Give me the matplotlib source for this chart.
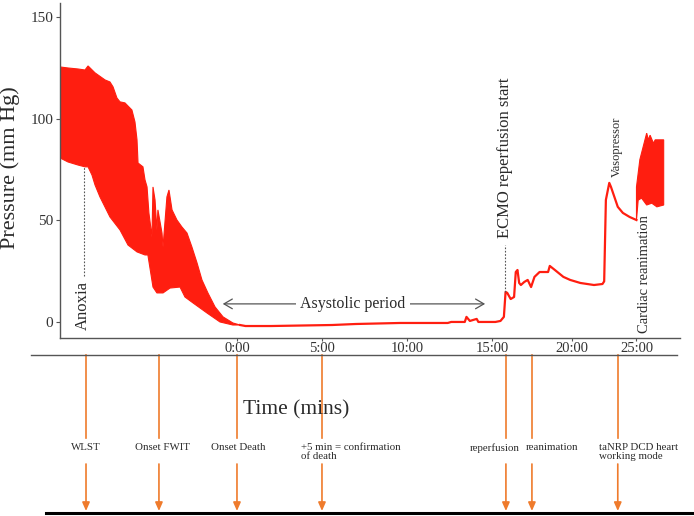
import numpy as np
import matplotlib
matplotlib.use("Agg")
import matplotlib.pyplot as plt
import matplotlib.transforms as mtransforms
from matplotlib.lines import Line2D

plt.rcParams["font.family"] = ["Liberation Serif", "DejaVu Serif"]

# ---- data (time in minutes from onset of death, pressure in mm Hg) ----
# pulsatile band before death: upper / lower envelope
band1_up_t = [-10.41, -9.94, -9.35, -8.94, -8.76, -8.35, -7.76, -7.47, -7.29, -7.06,
              -6.88, -6.59, -6.18, -6.00, -5.88, -5.82, -5.53, -5.41, -5.29, -5.18,
              -5.00, -4.94, -4.82, -4.71, -4.65, -4.41, -4.35, -4.12, -4.00, -3.82,
              -3.53, -3.24, -2.94, -2.65, -2.35, -2.06, -1.71, -1.29, -0.82, -0.24, 0.18]
band1_up_v = [125.6, 125.1, 124.6, 124.1, 126.1, 122.7, 119.2, 118.2, 115.8, 110.3,
              108.4, 107.9, 104.4, 98.5, 89.7, 78.3, 76.4, 70.0, 66.5, 53.7,
              41.9, 66.5, 60.1, 45.3, 55.2, 43.8, 36.9, 61.6, 65.0, 55.2,
              50.2, 46.8, 43.8, 36.9, 29.1, 20.7, 14.3, 7.4, 2.5, -0.5, -1.5]
band1_lo_t = [-10.41, -9.94, -9.35, -8.94, -8.76, -8.53, -8.35, -8.06, -7.47, -6.88,
              -6.41, -5.88, -5.41, -5.24, -4.94, -4.71, -4.35, -3.94, -3.35, -3.06,
              -2.59, -1.76, -1.00, -0.24, 0.18]
band1_lo_v = [80.8, 78.8, 77.3, 76.4, 76.4, 72.4, 67.5, 61.6, 51.7, 45.3,
              37.9, 34.5, 33.0, 33.0, 17.2, 14.3, 14.3, 16.7, 17.2, 12.3,
              9.4, 4.4, 0.0, -1.5, -1.5]

# asystole, ECMO reperfusion and vasopressor response
line_t = [0.18, 0.5, 2.0, 5.6, 7.0, 9.6, 10.8, 12.4, 12.6, 13.4, 13.5, 13.7, 14.1,
          14.2, 15.2, 15.5, 15.7, 15.8, 15.9, 16.1, 16.3, 16.4, 16.5, 16.6, 16.7,
          16.9, 17.1, 17.3, 17.5, 17.8, 18.3, 18.4, 18.7, 19.2, 19.6, 20.2, 21.0,
          21.5, 21.6, 21.7, 21.9, 22.0, 22.4, 22.7, 23.1, 23.5]
line_v = [-1.5, -2.0, -2.0, -1.5, -1.0, -0.5, -0.5, -0.5, 0.0, 0.0, 2.5, 0.5, 1.5,
          0.0, 0.0, 0.5, 2.5, 14.8, 14.3, 11.3, 12.3, 24.6, 25.6, 19.2, 18.2,
          19.7, 20.7, 17.2, 22.2, 24.6, 24.6, 27.6, 25.6, 22.2, 20.7, 19.2, 18.2,
          18.7, 20.0, 60.1, 68.5, 66.5, 56.7, 53.7, 51.7, 50.2]

# pulsatile band after cardiac reanimation
band2_up_t = [23.5, 23.7, 24.1, 24.2, 24.3, 24.5, 24.6, 24.9, 25.1]
band2_up_v = [66.5, 80.0, 93.0, 89.7, 92.0, 88.0, 89.7, 89.7, 89.7]
band2_lo_t = [23.5, 23.6, 23.8, 24.1, 24.4, 24.7, 25.1]
band2_lo_v = [50.2, 60.0, 61.0, 57.6, 58.5, 56.7, 57.6]

tick_pos = [0, 5, 10, 15, 19.7, 23.5]
tick_labels = ["0:00", "5:00", "10:00", "15:00", "20:00", "25:00"]
y_ticks = [0, 50, 100, 150]

event_t = [-8.88, -4.59, 0.0, 5.0, 15.82, 17.35, 22.4]
event_labels = ["WLST", "Onset FWIT", "Onset Death", "+5 min = confirmation\nof death",
                "reperfusion", "reanimation", "taNRP DCD heart\nworking mode"]
# label placement: horizontal alignment and pixel offset from the arrow
event_ha = ["center", "center", "center", "left", "center", "left", "left"]
event_dx = [0, 4, 1, -21, -11, -6, -19]

RED = "#ff1e10"
ORANGE = "#ef7b2c"
GREY = "#555555"
TXT = "#2a2a2a"

W, H = 694, 516
fig = plt.figure(figsize=(W / 100, H / 100), dpi=100)
ax = fig.add_axes([60 / W, 1 - 338 / H, 620 / W, 335 / H])

# traces
ax.fill(np.concatenate([band1_up_t, band1_lo_t[::-1]]),
        np.concatenate([band1_up_v, band1_lo_v[::-1]]),
        color=RED, lw=0.8, ec=RED)
ax.plot(line_t, line_v, color=RED, lw=1.6, solid_joinstyle="round")
ax.fill(np.concatenate([band2_up_t, band2_lo_t[::-1]]),
        np.concatenate([band2_up_v, band2_lo_v[::-1]]),
        color=RED, lw=0.8, ec=RED)

ax.set_xlim(-10.41, 26.06)
ax.set_ylim(-7.9, 157.1)
for s in ["top", "right"]:
    ax.spines[s].set_visible(False)
for s in ["left", "bottom"]:
    ax.spines[s].set_color(GREY)
    ax.spines[s].set_linewidth(1.0)
ax.set_yticks(y_ticks)
ax.set_xticks(tick_pos)
ax.set_xticklabels(tick_labels)
ax.tick_params(axis="y", length=3, width=0.8, color=GREY, labelsize=11,
               labelcolor="#333333", pad=2)
ax.tick_params(axis="x", length=2, width=0.8, color=GREY, labelsize=10.5,
               labelcolor="#333333", pad=1)

# annotations inside the plot
ax.plot([-9.0, -9.0], [22.7, 76.4], color=GREY, lw=0.8, ls=(0, (1.5, 1.5)))
ax.text(-9.06, -3.9, "Anoxia", rotation=90, ha="center", va="bottom",
        fontsize=12, color=TXT)

ax.plot([15.76, 15.76], [14.8, 37.9], color=GREY, lw=0.8, ls=(0, (1.5, 1.5)))
ax.text(15.76, 41.4, "ECMO reperfusion start", rotation=90, ha="center",
        va="bottom", fontsize=12, color=TXT)
ax.text(22.35, 71.4, "Vasopressor", rotation=90, ha="center", va="bottom",
        fontsize=9, color=TXT)
ax.text(24.0, -5.4, "Cardiac reanimation", rotation=90, ha="center",
        va="bottom", fontsize=10.5, color=TXT)

ax.annotate("", xy=(-1.0, 8.9), xytext=(14.76, 8.9),
            arrowprops=dict(arrowstyle="<->,head_length=0.6,head_width=0.35",
                            color=GREY, lw=0.9))
ax.text(6.82, 8.9, "Asystolic period", ha="center", va="center", fontsize=11.5,
        color=TXT, bbox=dict(fc="white", ec="none", pad=3))

# axis titles
fig.text(10 / W, 1 - 168 / H, "Pressure (mm Hg)", rotation=90, ha="center",
         va="center", fontsize=16, color=TXT)
fig.text(243 / W, 1 - 410 / H, "Time (mins)", ha="left", va="center",
         fontsize=15.5, color=TXT)

# timeline below
fig.add_artist(Line2D([31 / W, 677 / W], [1 - 355 / H, 1 - 355 / H],
                      color=GREY, lw=1.0))
fig.add_artist(Line2D([46 / W, 1.0], [1 - 513 / H, 1 - 513 / H],
                      color="black", lw=2.2))

trans = mtransforms.blended_transform_factory(ax.transData, fig.transFigure)
for t, lab, ha, dx in zip(event_t, event_labels, event_ha, event_dx):
    ax.add_line(Line2D([t, t], [1 - 355 / H, 1 - 438 / H], transform=trans,
                       color=ORANGE, lw=1.2, clip_on=False))
    ax.annotate("", xy=(t, 1 - 511 / H), xytext=(t, 1 - 464 / H),
                xycoords=trans, textcoords=trans, annotation_clip=False,
                arrowprops=dict(arrowstyle="-|>,head_length=0.5,head_width=0.22",
                                color=ORANGE, lw=1.2, shrinkA=0, shrinkB=0))
    off = mtransforms.offset_copy(trans, fig=fig, x=dx * 0.72, y=0, units="points")
    ax.text(t, 1 - 443 / H, lab, transform=off, ha=ha, va="top", fontsize=7.8,
            color=TXT, linespacing=1.0, clip_on=False)

fig.savefig("out.png", dpi=100)
